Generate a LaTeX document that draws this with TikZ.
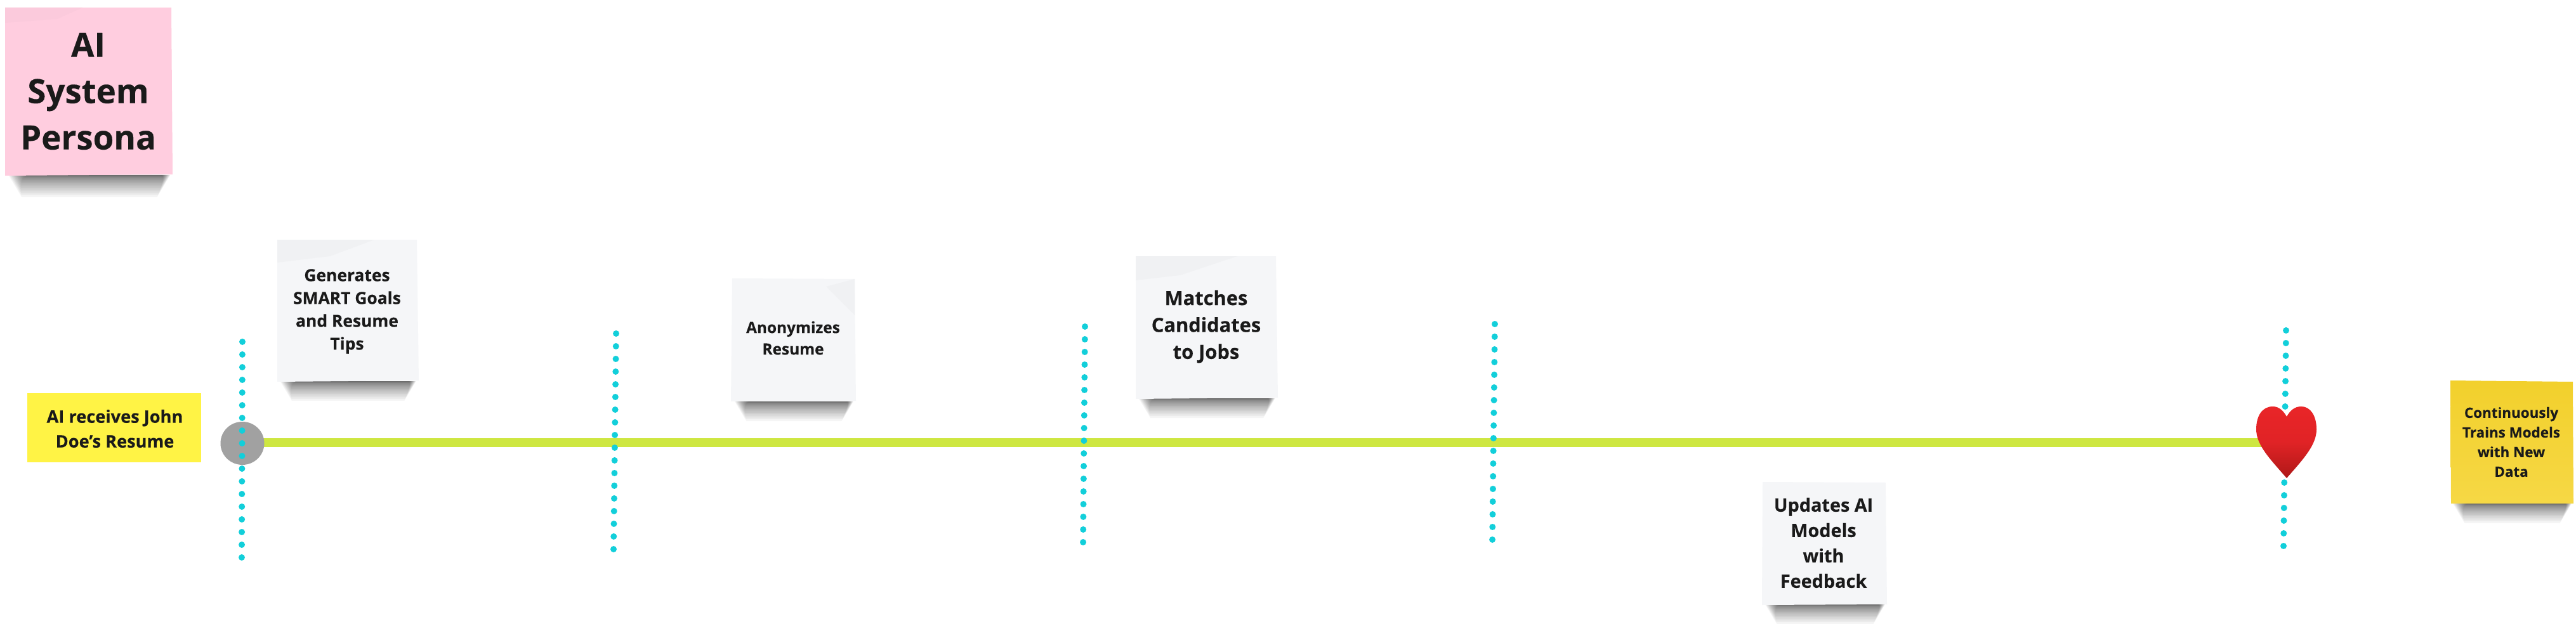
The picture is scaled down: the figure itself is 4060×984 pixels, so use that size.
\documentclass[tikz,border=0pt]{standalone}
\usepackage{fontspec}
\setmainfont[BoldFeatures={FakeBold=0.25}]{Open Sans}
\definecolor{ink}{HTML}{1A1A1A}
\definecolor{limeline}{HTML}{CEE741}
\definecolor{dotcyan}{HTML}{12CFDA}
\definecolor{pinknote}{HTML}{FFCDDF}
\definecolor{pinkfold}{HTML}{FBCADC}
\definecolor{greynote}{HTML}{F5F6F8}
\definecolor{greyfold}{HTML}{F0F1F3}
\definecolor{lemonnote}{HTML}{FFF345}
\definecolor{goldtop}{HTML}{F2D02C}
\definecolor{goldbot}{HTML}{F6D845}
\definecolor{hearttop}{HTML}{E92528}
\definecolor{heartbot}{HTML}{AF1818}
\tikzset{
  lbl/.style={inner sep=0pt,outer sep=0pt,align=center,text=ink},
  dotline/.style={draw=dotcyan,line width=2.5pt,line cap=round,dash pattern=on 0pt off 5pt},
  mainline/.style={draw=limeline,line width=3.5pt},
}
% shadow under a note: x-left, x-right, y of bottom edge, depth
\newcommand{\noteshadow}[4]{%
  \foreach \i in {1,...,20}{%
    \pgfmathsetmacro{\hh}{#4*(\i/20)*(\i/20)+1}%
    \pgfmathsetmacro{\insl}{(#2-#1)*(0.02+0.12*(1-\i/20))}%
    \pgfmathsetmacro{\insr}{(#2-#1)*(0.01+0.05*(1-\i/20))}%
    \pgfmathsetmacro{\tap}{\hh*0.6}%
    \fill[black,opacity=0.04]
      ({#1+\insl},#3) -- ({#2-\insr},#3) -- ({#2-\insr-\tap},{#3+\hh}) -- ({#1+\insl+\tap},{#3+\hh}) -- cycle;
  }%
}
\begin{document}
\begin{tikzpicture}[x=0.25pt,y=-0.25pt]
\useasboundingbox (0,0) rectangle (4060,984);
\fill[white] (0,0) rectangle (4060,984);

% timeline
\coordinate (heartc) at (3604,698);
\node[circle,inner sep=0pt,minimum size=0pt] (startpt) at (382,698) {};
\draw[mainline] (startpt) -- (heartc);
\fill[fill=black!37] (382,699) ellipse (34.5 and 34);

% dotted verticals
\foreach \n/\xa/\ya/\xb/\yb in {a/382/539/381/882,b/971/526/967/868,c/1710/515/1707/858,d/2356/511/2352/854,e/3603/521/3599/863}{
  \coordinate (\n t) at (\xa,\ya);
  \coordinate (\n b) at (\xb,\yb);
  \draw[dotline] (\n t) -- (\n b);
}

% heart
\shade[top color=hearttop,bottom color=heartbot,middle color=hearttop!85!heartbot]
  (3604,657) .. controls (3599,648) and (3592,641) .. (3582,641)
  .. controls (3566,641) and (3556,655) .. (3556,677)
  .. controls (3556,702) and (3578,724) .. (3604,754)
  .. controls (3630,724) and (3651,702) .. (3651,677)
  .. controls (3651,655) and (3641,641) .. (3627,641)
  .. controls (3616,641) and (3609,648) .. (3604,657) -- cycle;

% pink note
\noteshadow{8}{271}{276}{34}
\fill[pinknote] (8,12) -- (270,12) -- (272,275) -- (8,277) -- cycle;
\fill[pinkfold] (8,12) -- (130,12) -- (90,30) -- (8,36) -- cycle;
\node[lbl,font=\fontsize{13.2pt}{18.25pt}\selectfont\bfseries] (persona) at (139,144) {AI\\System\\Persona};

% generates
\noteshadow{437}{658}{601}{30}
\fill[greynote] (437,378) -- (657,378) -- (660,600) -- (437,602) -- cycle;
\fill[greyfold] (437,378) -- (590,378) -- (520,404) -- (437,414) -- cycle;
\node[lbl,font=\fontsize{6.6pt}{9pt}\selectfont\bfseries] (gen) at (547,491) {Generates\\SMART Goals\\and Resume\\Tips};

% yellow
\fill[lemonnote] (43,620) rectangle (317,729);
\node[lbl,font=\fontsize{6.8pt}{9.75pt}\selectfont\bfseries] (recv) at (181,676) {AI receives John\\Doe’s Resume};

% anonymizes
\noteshadow{1154}{1347}{633}{30}
\fill[greynote] (1154,439) -- (1347,440) -- (1349,632) -- (1152,633) -- cycle;
\fill[greyfold] (1347,440) -- (1302,452) -- (1347,497) -- cycle;
\node[lbl,font=\fontsize{6.1pt}{8.5pt}\selectfont\bfseries] (anon) at (1250,533) {Anonymizes\\Resume};

% matches
\noteshadow{1790}{2012}{628}{30}
\fill[greynote] (1790,404) -- (2011,404) -- (2014,627) -- (1790,629) -- cycle;
\fill[greyfold] (1790,404) -- (1950,404) -- (1860,434) -- (1790,442) -- cycle;
\node[lbl,font=\fontsize{7.7pt}{10.6pt}\selectfont\bfseries] (match) at (1901,515) {Matches\\Candidates\\to Jobs};

% updates
\noteshadow{2778}{2973}{953}{30}
\fill[greynote] (2778,760) -- (2972,761) -- (2974,953) -- (2777,954) -- cycle;
\node[lbl,font=\fontsize{7.2pt}{10pt}\selectfont\bfseries] (upd) at (2874,856) {Updates AI\\Models\\with\\Feedback};

% continuously
\noteshadow{3862}{4055}{794}{30}
\shade[top color=goldtop,bottom color=goldbot] (3862,600) -- (4055,602) -- (4056,794) -- (3863,794) -- cycle;
\node[lbl,font=\fontsize{5.6pt}{7.75pt}\selectfont\bfseries] (cont) at (3958,697) {Continuously\\Trains Models\\with New\\Data};
\end{tikzpicture}
\end{document}
